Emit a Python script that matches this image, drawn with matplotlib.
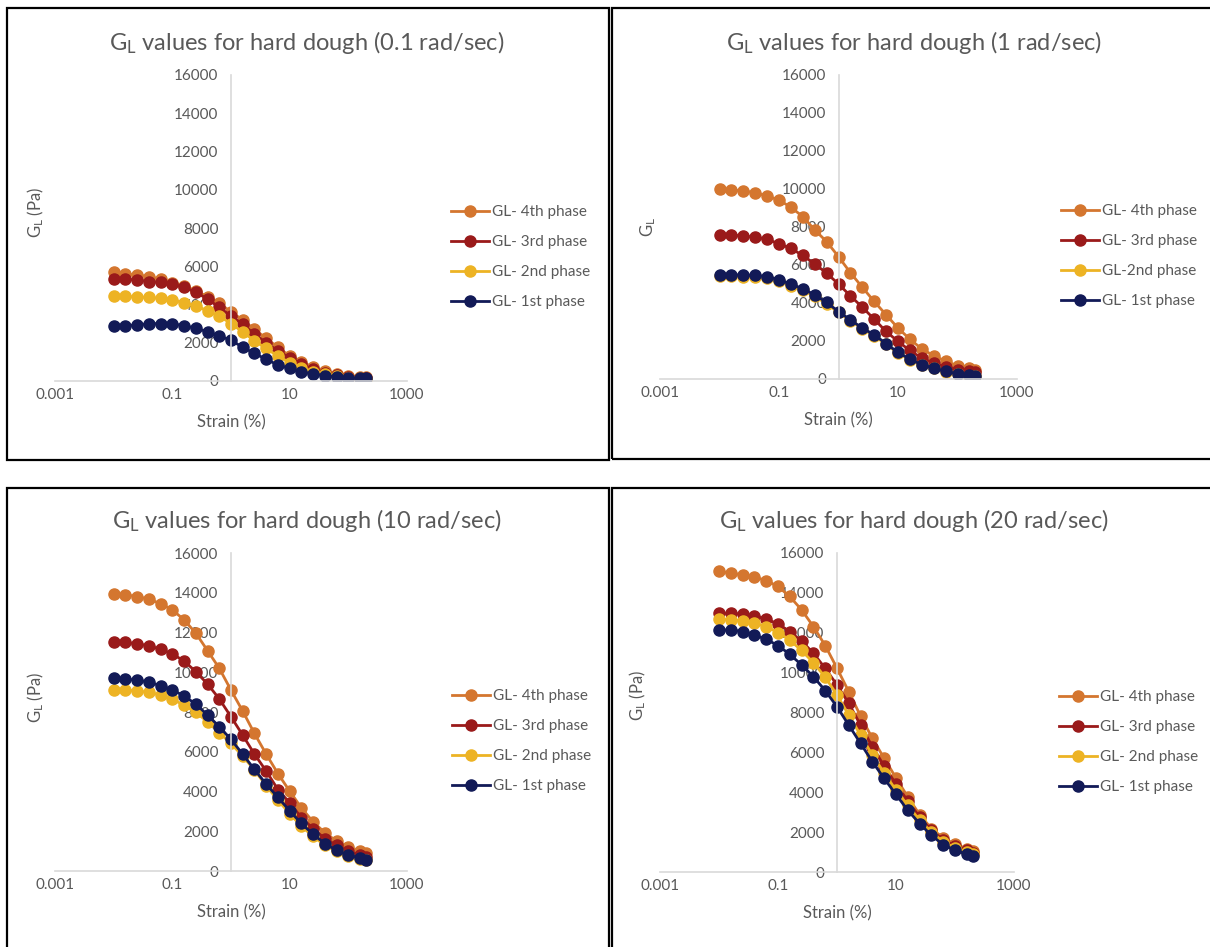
import matplotlib.pyplot as plt
from matplotlib.patches import Rectangle

plt.rcParams['font.family'] = ['Lato', 'DejaVu Sans']
plt.rcParams['mathtext.fontset'] = 'custom'
plt.rcParams['mathtext.rm'] = 'Lato'
plt.rcParams['mathtext.it'] = 'Lato:italic'

# strain (%) values, same for every sweep
strain = [0.01, 0.0158, 0.0251, 0.0398, 0.0631, 0.1, 0.158, 0.251, 0.398, 0.631,
          1.0, 1.58, 2.51, 3.98, 6.31, 10.0, 15.8, 25.1, 39.8, 63.1, 100.0, 158.0, 200.0]

# 0.1 rad/sec
gl01_p4 = [5720, 5600, 5540, 5460, 5320, 5140, 4970, 4720, 4410, 4060, 3620, 3190, 2700, 2230, 1760, 1310, 1010, 720, 540, 370, 280, 230, 190]
gl01_p3 = [5330, 5330, 5280, 5200, 5160, 5070, 4900, 4640, 4290, 3850, 3400, 2970, 2450, 2000, 1570, 1220, 870, 610, 440, 320, 230, 180, 150]
gl01_p2 = [4420, 4420, 4400, 4370, 4320, 4230, 4100, 3930, 3670, 3400, 3000, 2570, 2100, 1700, 1300, 960, 700, 490, 350, 250, 180, 140, 120]
gl01_p1 = [2880, 2900, 2930, 3000, 3000, 2980, 2900, 2750, 2580, 2350, 2140, 1760, 1450, 1130, 840, 660, 470, 370, 280, 220, 180, 150, 140]

# 1 rad/sec
gl1_p4 = [9980, 9950, 9900, 9800, 9630, 9420, 9040, 8550, 7850, 7230, 6440, 5600, 4830, 4080, 3380, 2680, 2100, 1580, 1230, 930, 700, 580, 490]
gl1_p3 = [7580, 7580, 7530, 7460, 7360, 7110, 6880, 6500, 6060, 5570, 5000, 4380, 3780, 3150, 2500, 1980, 1500, 1100, 840, 630, 490, 400, 350]
gl1_p2 = [5400, 5400, 5390, 5360, 5300, 5140, 4920, 4670, 4350, 3960, 3500, 3070, 2640, 2280, 1820, 1370, 1020, 730, 560, 390, 270, 180, 160]
gl1_p1 = [5480, 5480, 5480, 5450, 5390, 5220, 5000, 4750, 4430, 4030, 3550, 3120, 2680, 2330, 1860, 1400, 1050, 750, 580, 400, 280, 190, 170]

# 10 rad/sec
gl10_p4 = [13950, 13900, 13800, 13680, 13450, 13140, 12640, 11970, 11090, 10200, 9100, 8050, 6920, 5880, 4900, 4020, 3180, 2470, 1930, 1500, 1210, 1000, 900]
gl10_p3 = [11500, 11500, 11430, 11330, 11160, 10920, 10570, 10030, 9410, 8660, 7760, 6840, 5880, 5030, 4100, 3430, 2690, 2130, 1630, 1290, 1000, 790, 700]
gl10_p2 = [9110, 9110, 9060, 8990, 8860, 8640, 8350, 7980, 7510, 6960, 6420, 5780, 5080, 4290, 3560, 2890, 2250, 1750, 1290, 1000, 760, 620, 540]
gl10_p1 = [9700, 9650, 9610, 9500, 9330, 9110, 8810, 8400, 7850, 7260, 6620, 5880, 5110, 4370, 3700, 3030, 2390, 1850, 1380, 1040, 790, 670, 570]

# 20 rad/sec
gl20_p4 = [15080, 14990, 14900, 14790, 14620, 14320, 13820, 13150, 12310, 11360, 10220, 9050, 7820, 6700, 5700, 4720, 3770, 2880, 2180, 1710, 1390, 1170, 1060]
gl20_p3 = [12980, 12980, 12930, 12850, 12680, 12450, 12060, 11590, 10970, 10220, 9380, 8460, 7370, 6280, 5310, 4410, 3570, 2760, 2090, 1620, 1310, 1090, 950]
gl20_p2 = [12680, 12650, 12610, 12480, 12310, 12010, 11640, 11110, 10500, 9770, 8880, 7870, 6870, 5860, 4970, 4100, 3350, 2600, 2010, 1510, 1210, 1000, 890]
gl20_p1 = [12140, 12140, 12060, 11890, 11670, 11360, 10920, 10390, 9800, 9100, 8290, 7370, 6450, 5530, 4690, 3890, 3100, 2430, 1840, 1370, 1090, 890, 790]

titles = ['0.1 rad/sec', '1 rad/sec', '10 rad/sec', '20 rad/sec']
ylabels = [r'G$_\mathrm{L}$ (Pa)', r'G$_\mathrm{L}$', r'G$_\mathrm{L}$ (Pa)', r'G$_\mathrm{L}$ (Pa)']
labels_std = ['GL- 4th phase', 'GL- 3rd phase', 'GL- 2nd phase', 'GL- 1st phase']
labels_1 = ['GL- 4th phase', 'GL- 3rd phase', 'GL-2nd phase', 'GL- 1st phase']
colors = ['#D4762F', '#9A1A1A', '#EDB324', '#121A57']
xticks = [0.001, 0.1, 10, 1000]
xticklabels = ['0.001', '0.1', '10', '1000']
yticks = [0, 2000, 4000, 6000, 8000, 10000, 12000, 14000, 16000]

panels = [
    (gl01_p4, gl01_p3, gl01_p2, gl01_p1),
    (gl1_p4, gl1_p3, gl1_p2, gl1_p1),
    (gl10_p4, gl10_p3, gl10_p2, gl10_p1),
    (gl20_p4, gl20_p3, gl20_p2, gl20_p1),
]
legend_labels = [labels_std, labels_1, labels_std, labels_std]

W, H = 1210, 947
fig = plt.figure(figsize=(W / 100, H / 100), dpi=100)

def fx(px):
    return px / W

def fy(py):
    return 1 - py / H

# axes boxes in pixels: left, right, top(16000), bottom(0)
boxes = [(55, 407, 75, 381), (660, 1017, 75, 379), (55, 407, 553, 871), (660, 1014, 553, 872)]
# panel frames in pixels: x0, y0, x1, y1
frames = [(7, 8, 609, 460), (612, 8, 1220, 459), (7, 488, 609, 960), (612, 488, 1220, 960)]
title_pos = [(307, 43), (914, 43), (307, 520), (914, 520)]
ylab_pos = [(36, 212), (648, 227), (36, 697), (638, 695)]
leg_pos = [(451, 257), (1061, 256), (452, 741), (1059, 742)]
gray = '#595959'
axcol = '#D9D9D9'

for i in range(4):
    x0, y0, x1, y1 = frames[i]
    fig.add_artist(Rectangle((fx(x0), fy(y1)), fx(x1) - fx(x0), fy(y0) - fy(y1),
                             transform=fig.transFigure, fill=False, edgecolor='black', linewidth=1.6))
    l, r, t, b = boxes[i]
    ax = fig.add_axes([fx(l), fy(b), fx(r) - fx(l), fy(t) - fy(b)])
    ax.patch.set_alpha(0)
    for series, col, lab in zip(panels[i], colors, legend_labels[i]):
        ax.plot(strain, series, color=col, marker='o', markersize=8, linewidth=2, label=lab)
    ax.set_xscale('log')
    ax.set_xlim(0.001, 1000)
    ax.set_ylim(0, 16000)
    ax.set_xticks(xticks)
    ax.set_xticklabels(xticklabels)
    ax.minorticks_off()
    ax.set_yticks(yticks)
    ax.set_yticklabels([str(v) for v in yticks])
    ax.spines['left'].set_position(('data', 1))
    ax.spines['top'].set_visible(False)
    ax.spines['right'].set_visible(False)
    for s in ['left', 'bottom']:
        ax.spines[s].set_color(axcol)
        ax.spines[s].set_linewidth(1.2)
    ax.set_axisbelow(True)
    ax.tick_params(axis='both', length=0, labelsize=11, labelcolor=gray)
    ax.tick_params(axis='y', pad=9)
    ax.tick_params(axis='x', pad=5)
    ax.set_xlabel('Strain (%)', fontsize=12, color=gray, labelpad=9)
    fig.text(fx(title_pos[i][0]), fy(title_pos[i][1]),
             r'G$_\mathrm{L}$ values for hard dough (' + titles[i] + ')',
             ha='center', va='center', fontsize=17, color=gray)
    fig.text(fx(ylab_pos[i][0]), fy(ylab_pos[i][1]), ylabels[i], rotation=90,
             ha='center', va='center', fontsize=12, color=gray)
    ax.legend(loc='center left', bbox_to_anchor=(fx(leg_pos[i][0]), fy(leg_pos[i][1])),
              bbox_transform=fig.transFigure, frameon=False, fontsize=11,
              labelcolor=gray, handlelength=2.5, handletextpad=0.2,
              labelspacing=1.05, borderpad=0, borderaxespad=0)

fig.savefig('out.png', dpi=100)
